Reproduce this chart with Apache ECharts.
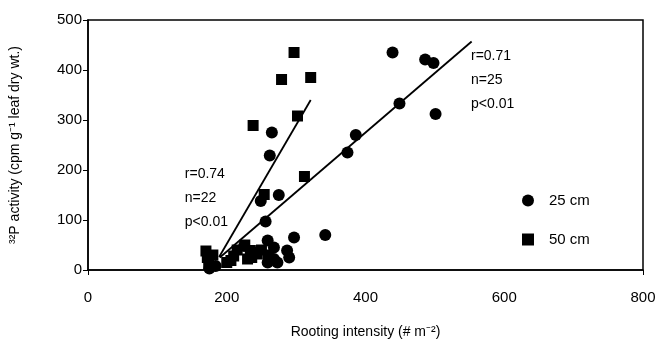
<!DOCTYPE html>
<html>
<head>
<meta charset="utf-8">
<script src="https://cdn.jsdelivr.net/npm/echarts@6/dist/echarts.min.js"></script>
<style>
  html, body { margin: 0; padding: 0; background: #fff; }
  #chart { width: 659px; height: 344px; }
</style>
</head>
<body>
<div id="chart"></div>
<script>
// rooting intensity (#/m2) vs 32P activity
const depth25 = [
  [439, 435], [486, 421], [498, 414], [449, 333], [501, 312],
  [386, 270], [374, 235], [265, 275], [262, 229], [249, 138],
  [275, 150], [256, 97], [342, 70], [297, 65], [259, 59],
  [268, 45], [287, 39], [268, 22], [273, 15], [259, 15],
  [184, 8], [225, 48], [240, 35], [290, 25], [175, 3]
];
const depth50 = [
  [297, 435], [279, 381], [321, 385], [302, 308], [238, 289],
  [312, 187], [254, 151], [170, 38], [174, 12], [172, 25],
  [206, 19], [226, 50], [234, 39], [210, 28], [244, 32],
  [230, 22], [250, 40], [215, 40], [200, 15], [180, 30],
  [260, 30], [236, 25]
];
// regression line end points
const fit25 = [[190, 25], [553, 457]];
const fit50 = [[189, 26], [321, 340]];

const xTicks = [0, 200, 400, 600, 800];
const yTicks = [0, 100, 200, 300, 400, 500];

const font = "Liberation Sans";
const chart = echarts.init(document.getElementById("chart"));

chart.setOption({
  animation: false,
  textStyle: { fontFamily: font, color: "#000" },
  grid: {
    left: 87, right: 16, top: 20, bottom: 71,
    show: true, borderColor: "#000", borderWidth: 1.5, backgroundColor: "transparent"
  },
  legend: {
    orient: "vertical",
    left: 517, top: 188,
    itemWidth: 12, itemHeight: 12, itemGap: 24,
    textStyle: { fontFamily: font, fontSize: 15, color: "#000", padding: [0, 0, 0, 10] },
    data: [
      { name: "25 cm", icon: "circle" },
      { name: "50 cm", icon: "rect" }
    ]
  },
  xAxis: {
    type: "value", min: xTicks[0], max: xTicks[xTicks.length - 1], interval: 200,
    name: "Rooting intensity (# m\u207B\u00B2)",
    nameLocation: "middle", nameGap: 55,
    nameTextStyle: { fontFamily: font, fontSize: 14, color: "#000" },
    splitLine: { show: false },
    axisLine: { lineStyle: { color: "#000", width: 1.5 } },
    axisTick: { show: true, length: 5, lineStyle: { color: "#000" }, customValues: [0, 800] },
    axisLabel: { margin: 20, fontSize: 15, color: "#000", fontFamily: font }
  },
  yAxis: {
    type: "value", min: yTicks[0], max: yTicks[yTicks.length - 1], interval: 100,
    name: "\u00B3\u00B2P activity (cpm g\u207B\u00B9 leaf dry wt.)",
    nameLocation: "middle", nameGap: 66, nameRotate: 90,
    nameTextStyle: { fontFamily: font, fontSize: 14, color: "#000" },
    splitLine: { show: false },
    axisLine: { show: true, lineStyle: { color: "#000", width: 1.5 } },
    axisTick: { show: true, length: 5, lineStyle: { color: "#000" } },
    axisLabel: { margin: 6, fontSize: 15, color: "#000", fontFamily: font }
  },
  series: [
    {
      name: "25 cm", type: "scatter", symbol: "circle", symbolSize: 12,
      itemStyle: { color: "#000", opacity: 1 }, data: depth25, z: 3
    },
    {
      name: "50 cm", type: "scatter", symbol: "rect", symbolSize: 11,
      itemStyle: { color: "#000", opacity: 1 }, data: depth50, z: 3
    },
    {
      type: "line", data: fit25, symbol: "none",
      lineStyle: { color: "#000", width: 1.8 }, z: 2
    },
    {
      type: "line", data: fit50, symbol: "none",
      lineStyle: { color: "#000", width: 1.8 }, z: 2
    }
  ],
  graphic: [
    {
      type: "text", left: 471, top: 44,
      style: { text: "r=0.71\nn=25\np<0.01", font: "14px " + font, fill: "#000", lineHeight: 24, align: "left" }
    },
    {
      type: "text", right: 659 - 228, top: 162,
      style: { text: "r=0.74\nn=22\np<0.01", font: "14px " + font, fill: "#000", lineHeight: 24, align: "right" }
    }
  ]
});
</script>
</body>
</html>
